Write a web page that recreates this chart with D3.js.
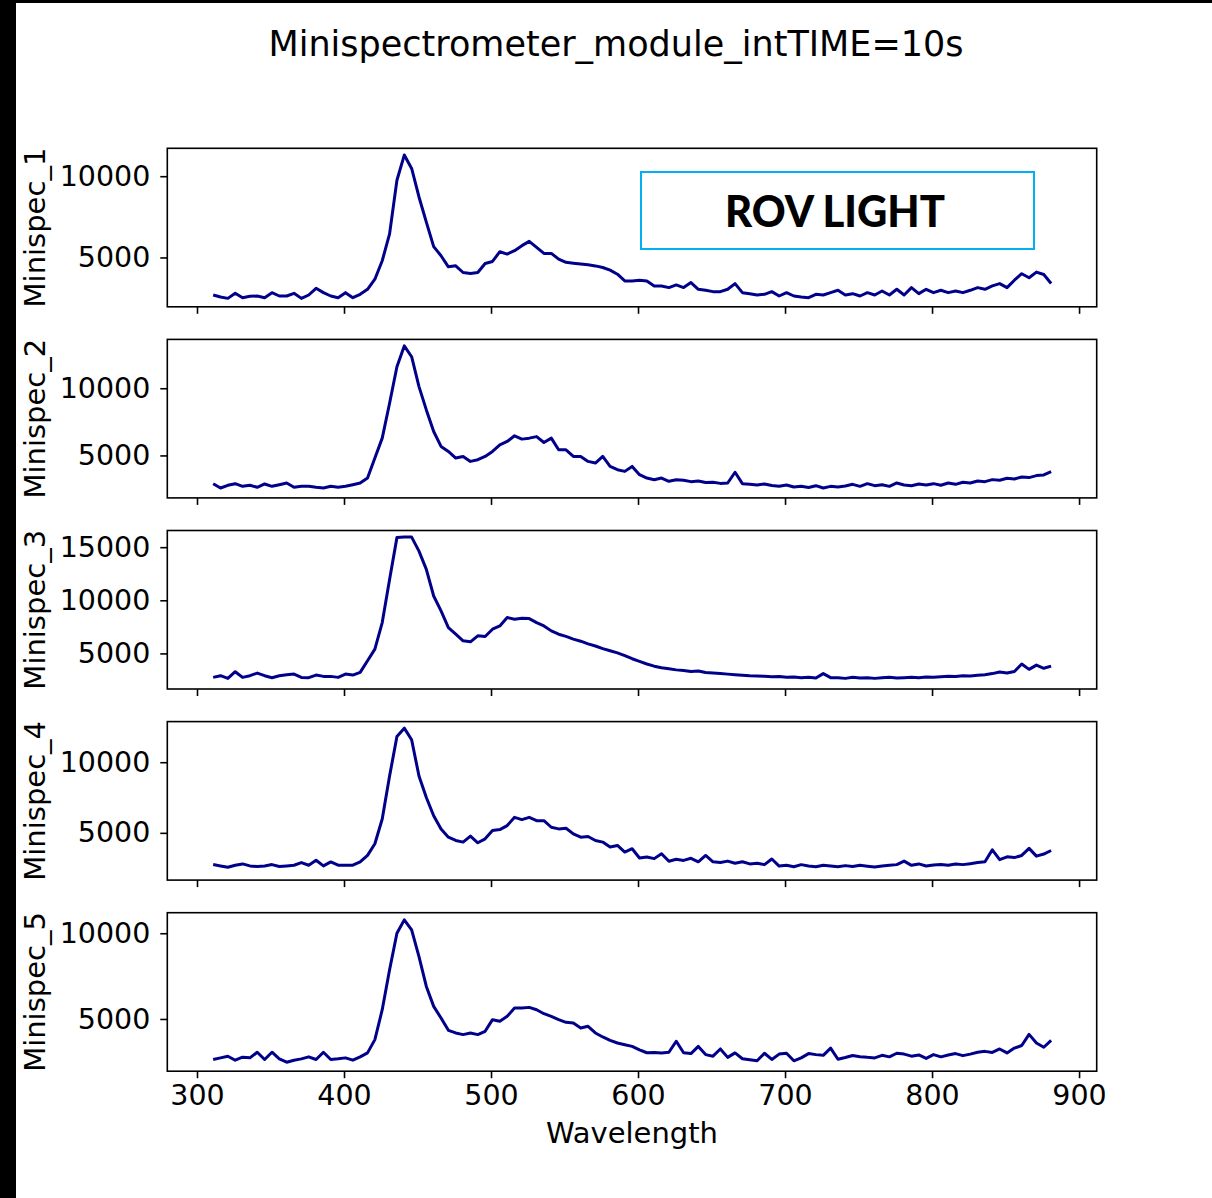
<!DOCTYPE html>
<html>
<head>
<meta charset="utf-8">
<script src="https://cdn.jsdelivr.net/npm/d3@7"></script>
<style>
  body { margin: 0; background: #fff; }
  svg { display: block; }
</style>
</head>
<body>
<div id="chart"></div>
<script>
// wavelength grid (nm)
const wavelengths = [311, 316, 321, 326, 331, 336, 341, 346, 351, 356,
  361, 366, 371, 376, 381, 386, 391, 396, 401, 406,
  411, 416, 421, 426, 431, 436, 441, 446, 451, 456,
  461, 466, 471, 476, 481, 486, 491, 496, 501, 506,
  511, 516, 521, 526, 531, 536, 541, 546, 551, 556,
  561, 566, 571, 576, 581, 586, 591, 596, 601, 606,
  611, 616, 621, 626, 631, 636, 641, 646, 651, 656,
  661, 666, 671, 676, 681, 686, 691, 696, 701, 706,
  711, 716, 721, 726, 731, 736, 741, 746, 751, 756,
  761, 766, 771, 776, 781, 786, 791, 796, 801, 806,
  811, 816, 821, 826, 831, 836, 841, 846, 851, 856,
  861, 866, 871, 876, 881];

const minispec1 = [2690, 2566, 2483, 2793, 2525, 2607, 2628, 2525, 2835, 2628,
  2628, 2793, 2483, 2690, 3103, 2835, 2628, 2525, 2835, 2525,
  2732, 3041, 3661, 4797, 6449, 9753, 11300, 10475, 8720, 7171,
  5664, 5106, 4425, 4487, 4074, 4012, 4074, 4631, 4755, 5354,
  5209, 5416, 5726, 5990, 5622, 5251, 5251, 4900, 4700, 4650,
  4600, 4550, 4480, 4384, 4218, 3970, 3557, 3557, 3598, 3557,
  3248, 3248, 3145, 3310, 3145, 3454, 3041, 2979, 2897, 2897,
  3041, 3392, 2835, 2773, 2690, 2732, 2897, 2628, 2835, 2628,
  2566, 2525, 2732, 2690, 2835, 2979, 2690, 2773, 2628, 2835,
  2690, 2938, 2690, 3041, 2690, 3145, 2773, 3041, 2835, 2979,
  2835, 2938, 2835, 2979, 3145, 3041, 3248, 3392, 3145, 3600,
  4000, 3750, 4100, 3950, 3400];

const minispec2 = [2899, 2578, 2776, 2899, 2702, 2776, 2628, 2875, 2702, 2825,
  2949, 2628, 2702, 2702, 2628, 2578, 2702, 2628, 2702, 2825,
  2949, 3320, 4803, 6287, 8884, 11604, 13150, 12346, 10121, 8389,
  6782, 5669, 5298, 4803, 4927, 4556, 4680, 4927, 5298, 5793,
  6040, 6461, 6214, 6287, 6400, 5966, 6287, 5422, 5422, 4927,
  4927, 4556, 4433, 4927, 4185, 3938, 3814, 4185, 3567, 3320,
  3196, 3320, 3073, 3196, 3150, 3050, 3100, 2980, 3000, 2920,
  2950, 3750, 2900, 2850, 2800, 2880, 2760, 2700, 2800, 2650,
  2700, 2620, 2750, 2580, 2700, 2650, 2720, 2850, 2700, 2900,
  2750, 2820, 2700, 2950, 2800, 2750, 2880, 2800, 2900, 2780,
  2950, 2850, 3000, 2950, 3100, 3050, 3200, 3150, 3300, 3250,
  3400, 3350, 3500, 3550, 3800];

const minispec3 = [2744, 2901, 2651, 3276, 2744, 2901, 3151, 2901, 2713, 2901,
  2995, 3057, 2744, 2713, 2963, 2838, 2838, 2744, 3057, 2963,
  3213, 4308, 5403, 7904, 11969, 15900, 15950, 15950, 14627, 12907,
  10406, 8998, 7435, 6809, 6184, 6090, 6653, 6590, 7278, 7591,
  8373, 8216, 8310, 8279, 7904, 7591, 7122, 6809, 6600, 6350,
  6150, 5900, 5700, 5450, 5250, 5050, 4800, 4500, 4250, 4000,
  3800, 3650, 3550, 3450, 3400, 3300, 3350, 3200, 3150, 3100,
  3050, 3000, 2950, 2900, 2880, 2850, 2800, 2820, 2750, 2780,
  2700, 2750, 2680, 3100, 2720, 2700, 2650, 2750, 2680, 2720,
  2650, 2700, 2750, 2680, 2720, 2760, 2700, 2780, 2750, 2800,
  2850, 2820, 2900, 2880, 2950, 3000, 3100, 3250, 3150, 3300,
  4000, 3500, 3900, 3600, 3800];

const minispec4 = [2754, 2660, 2567, 2707, 2800, 2660, 2614, 2660, 2754, 2614,
  2660, 2707, 2894, 2707, 3058, 2660, 2941, 2707, 2707, 2707,
  2941, 3408, 4227, 5981, 9020, 11825, 12410, 11592, 9020, 7500,
  6214, 5279, 4695, 4461, 4344, 4765, 4297, 4578, 5162, 5232,
  5513, 6097, 5934, 6097, 5864, 5864, 5396, 5279, 5326, 4928,
  4695, 4741, 4461, 4344, 3993, 4110, 3642, 3876, 3221, 3291,
  3175, 3525, 2988, 3128, 3050, 3200, 2950, 3400, 2950, 2900,
  3000, 2850, 2950, 2800, 2850, 2750, 3150, 2650, 2700, 2600,
  2750, 2650, 2600, 2700, 2650, 2600, 2680, 2620, 2700, 2640,
  2580, 2660, 2700, 2750, 3000, 2700, 2800, 2650, 2720, 2760,
  2700, 2800, 2750, 2820, 2900, 2950, 3800, 3100, 3300, 3250,
  3400, 3900, 3350, 3500, 3750];

const minispec5 = [2634, 2731, 2828, 2595, 2770, 2731, 3059, 2634, 3059, 2673,
  2479, 2595, 2673, 2789, 2634, 3059, 2634, 2673, 2731, 2595,
  2789, 3021, 3796, 5539, 7865, 9997, 10780, 10191, 8640, 6896,
  5734, 5056, 4339, 4184, 4087, 4184, 4087, 4281, 4959, 4862,
  5152, 5637, 5637, 5676, 5539, 5307, 5152, 4959, 4804, 4765,
  4475, 4572, 4184, 3950, 3750, 3600, 3500, 3400, 3200, 3030,
  3050, 3020, 3060, 3700, 3030, 2980, 3400, 2920, 2830, 3250,
  2760, 3020, 2680, 2620, 2560, 3000, 2640, 2950, 3000, 2560,
  2730, 2980, 2920, 2880, 3300, 2650, 2750, 2870, 2800, 2760,
  2730, 2880, 2790, 3000, 2950, 2830, 2900, 2700, 2920, 2790,
  2900, 2980, 2860, 2950, 3060, 3110, 3050, 3250, 3020, 3300,
  3450, 4100, 3600, 3350, 3750];

const seriesNames = ["Minispec_1", "Minispec_2", "Minispec_3", "Minispec_4", "Minispec_5"];
const seriesValues = [minispec1, minispec2, minispec3, minispec4, minispec5];
// y limits of each subplot (matplotlib autoscale)
const yDomains = [[1964, 11716], [1840, 13635], [1650, 16570], [1655, 12875], [1953, 11198]];
const yTicks = [[5000, 10000], [5000, 10000], [5000, 10000, 15000], [5000, 10000], [5000, 10000]];
const xDomain = [279.8, 912];
const xTicks = [300, 400, 500, 600, 700, 800, 900];

const titleText = "Minispectrometer_module_intTIME=10s";
const xLabel = "Wavelength";
const noteText = "ROV  LIGHT";

const width = 1212, height = 1198;
const left = 167.3, right = 1096.7;
const top0 = 148.3, step = 191.1, panelH = 158.5;
const font = "DejaVu Sans, sans-serif";
const lineColor = "#00008b";

const svg = d3.select("#chart").append("svg")
  .attr("width", width)
  .attr("height", height)
  .style("font-family", font);

svg.append("rect").attr("width", width).attr("height", height).attr("fill", "#fff");
// black strips at the edges of the screenshot
svg.append("rect").attr("x", 0).attr("y", 0).attr("width", 16).attr("height", height).attr("fill", "#000");
svg.append("rect").attr("x", 0).attr("y", 0).attr("width", width).attr("height", 3).attr("fill", "#000");

const x = d3.scaleLinear().domain(xDomain).range([left, right]);

svg.append("text")
  .attr("x", 616).attr("y", 56)
  .attr("text-anchor", "middle")
  .attr("font-size", 35)
  .attr("fill", "#000")
  .text(titleText);

seriesValues.forEach((vals, i) => {
  const top = top0 + i * step;
  const y = d3.scaleLinear().domain(yDomains[i]).range([top + panelH, top]);
  const g = svg.append("g");

  const line = d3.line()
    .x((d, j) => x(wavelengths[j]))
    .y(d => y(d));

  g.append("path")
    .datum(vals)
    .attr("fill", "none")
    .attr("stroke", lineColor)
    .attr("stroke-width", 3)
    .attr("stroke-linejoin", "round")
    .attr("d", line);

  const yAxis = g.append("g")
    .attr("transform", `translate(${left},0)`)
    .call(d3.axisLeft(y).tickValues(yTicks[i]).tickFormat(d => d).tickSize(7).tickPadding(10));
  yAxis.select(".domain").remove();
  yAxis.selectAll("line").attr("stroke", "#000").attr("stroke-width", 1.6);
  yAxis.selectAll("text").attr("font-size", 28.5).attr("font-family", font).attr("fill", "#000");

  const xAxis = g.append("g")
    .attr("transform", `translate(0,${top + panelH})`)
    .call(d3.axisBottom(x).tickValues(xTicks).tickFormat(i === 4 ? (d => d) : (() => "")).tickSize(7).tickPadding(7));
  xAxis.select(".domain").remove();
  xAxis.selectAll("line").attr("stroke", "#000").attr("stroke-width", 1.6);
  xAxis.selectAll("text").attr("font-size", 28.5).attr("font-family", font).attr("fill", "#000");

  g.append("rect")
    .attr("x", left).attr("y", top)
    .attr("width", right - left).attr("height", panelH)
    .attr("fill", "none")
    .attr("stroke", "#000")
    .attr("stroke-width", 1.6);

  g.append("text")
    .attr("transform", `translate(45,${top + panelH / 2}) rotate(-90)`)
    .attr("text-anchor", "middle")
    .attr("font-size", 29)
    .attr("fill", "#000")
    .text(seriesNames[i]);
});

svg.append("text")
  .attr("x", (left + right) / 2).attr("y", 1143)
  .attr("text-anchor", "middle")
  .attr("font-size", 29)
  .attr("fill", "#000")
  .text(xLabel);

// annotation box on the first panel
svg.append("rect")
  .attr("x", 641).attr("y", 172)
  .attr("width", 393).attr("height", 77)
  .attr("fill", "#fff")
  .attr("stroke", "#00b0f0")
  .attr("stroke-width", 2);

svg.append("text")
  .attr("x", 835).attr("y", 227)
  .attr("text-anchor", "middle")
  .attr("font-family", "Lato, Open Sans, sans-serif")
  .attr("font-weight", 900)
  .attr("font-size", 43)
  .attr("textLength", 220)
  .attr("lengthAdjust", "spacingAndGlyphs")
  .attr("fill", "#000")
  .text(noteText);
</script>
</body>
</html>
